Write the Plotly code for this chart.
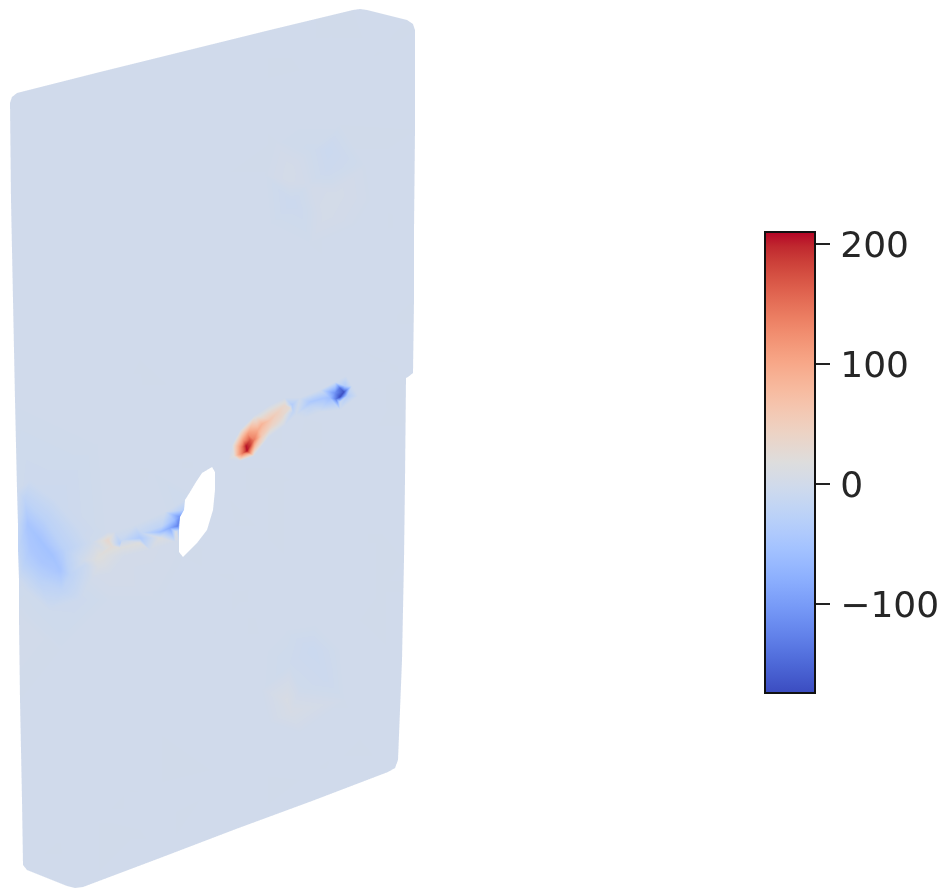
import plotly.graph_objects as go

# colour bar range and ticks
color_min = -174
color_max = 210
tick_values = [-100, 0, 100, 200]
tick_labels = ["\u200a−100", "\u200a0", "\u200a100", "\u200a200"]

# matplotlib "coolwarm" colours, evenly spaced
coolwarm = [
    (59,76,192),(68,90,204),(77,104,215),(87,117,225),(98,130,234),(108,142,241),(119,154,247),
    (130,165,251),(141,176,254),(152,185,255),(163,194,255),(174,201,253),(184,208,249),(194,213,244),
    (204,217,238),(213,219,230),(221,221,221),(229,216,209),(236,211,197),(241,204,185),(245,196,173),
    (247,187,160),(247,177,148),(247,166,135),(244,154,123),(241,141,111),(236,127,99),(229,112,88),
    (222,96,77),(213,80,66),(203,62,56),(192,40,47),(180,4,38),
]

# silhouette of the plate (image pixels), value at each outline node
outline_x = [10,12,17,100,185,270,353,360,367,407,413,415,415,414,414,413,408,406,405,404,402,398,395,388,312,236,160,83,75,67,27,23,22,20,19,19,18,18,17,15,13,11]
outline_y = [103,97,93,72,51,30,10,9,10,20,24,30,130,230,300,373,377,378,480,560,660,760,768,772,801,829,858,887,888,886,870,865,800,700,620,580,550,525,490,400,300,200]
outline_v = [0]*34 + [1,-4,-18,-14,-2,0,0,0]

# opening in the plate
hole_x = [212,202,196,190,185,184,180,179,179,179,183,197,207,213,215,215]
hole_y = [467,473,482,492,500,510,517,530,542,552,557,543,530,510,490,472]
hole_v = [0,0,0,0,-3,-30,-110,-35,0,0,0,0,0,0,0,0]

# interior field: background nodes
bg_x = [60,140,220,300,370, 60,140,220,370, 60,140,220,300,370, 60,140,225,290,360, 100,150,230,290,370, 110,160,250,300,370, 60,130,200,260,360, 60,140,230,330,380, 60,130,210,340, 60,140,360, 100,200,300]
bg_y = [120,110,90,70,60, 200,190,180,200, 280,280,270,280,290, 360,360,360,360,350, 440,470,500,480,440, 600,600,590,570,520, 650,650,650,640,620, 720,720,720,760,720, 800,790,770,760, 840,830,740, 820,800,780]
bg_v = [0]*len(bg_x)

# faint ring, upper right
ring_x = [290,288,292,300,328,327,336,325,308,312, 265,270,310,355,365,340,295,275]
ring_y = [168,180,203,210,150,170,195,215,185,150, 175,225,245,225,165,125,125,140]
ring_v = [4,4,-6,-4,-7,-5,4,4,1,-2, 0,0,0,0,0,0,0,0]

# faint marks, lower right
low_x = [313,290,327,287,284,291,300, 265,270,300,345,340,315,285,262]
low_y = [650,663,680,700,708,712,690, 650,722,732,700,650,625,630,690]
low_v = [-7,-3,-5,10,6,8,-1, 0,0,0,0,0,0,0,0]

# blue patch on the left edge
patch_x = [28,40,52,60, 30,42,55, 25,45,65,70,62,40,24, 30,55,80,85,80,50,25]
patch_y = [525,540,555,570, 550,562,572, 500,520,550,575,590,580,565, 480,500,530,565,600,610,590]
patch_v = [-48,-52,-52,-48, -42,-45,-42, -22,-25,-25,-22,-20,-25,-25, -4,-6,-6,-8,-4,-3,-2]

# crack, left of the opening
cleft_x = [120,122,140,142,160,162,170,174,178,178, 120,140,160,176,95,100,108,112,104,98,125,150,175, 115,135,165,84,92,110,92,108]
cleft_y = [544,540,538,533,532,526,528,520,521,526, 548,543,538,532,560,555,540,546,549,568,556,550,542, 532,525,512,560,542,573,578,532]
cleft_v = [-30,-12,-40,-15,-55,-20,-85,-60,-110,-125, 16,18,15,12,15,20,32,25,12,10,2,2,1, 0,0,0,1,-2,3,1,0]

# crack, red part
cred_x = [234,238,243,247,250,246,242,243,250,248,254,258,262,270,276,285,290,282,272,262,255, 228,240,254,268,285,296,232,240,255,270,285]
cred_y = [456,455,453,451,446,446,447,440,440,434,440,430,424,420,414,405,408,416,425,436,447, 460,461,456,438,425,415,445,430,415,405,398]
cred_v = [20,90,150,208,190,205,140,110,170,115,140,95,85,62,50,32,25,35,42,55,65, 0,0,0,0,0,0,0,0,0,0,0]

# crack, blue right part
cblue_x = [292,293,310,312,325,330,335,340,344,340,336,345,347,340, 300,320,335,352,358,320,305,340,346,360]
cblue_y = [405,412,402,406,398,398,393,388,392,397,399,386,396,402, 398,390,382,386,396,412,418,410,376,382]
cblue_v = [-35,-18,-42,-20,-48,-58,-110,-140,-170,-172,-130,-35,-35,-10, 0,0,0,0,0,0,0,0,0,0]

all_x = outline_x + hole_x + bg_x + ring_x + low_x + patch_x + cleft_x + cred_x + cblue_x
all_y = outline_y + hole_y + bg_y + ring_y + low_y + patch_y + cleft_y + cred_y + cblue_y
all_v = outline_v + hole_v + bg_v + ring_v + low_v + patch_v + cleft_v + cred_v + cblue_v


def delaunay(xs, ys):
    pts = [(float(a), float(b)) for a, b in zip(xs, ys)]
    n = len(pts)
    pts += [(-10000.0, -10000.0), (20000.0, -10000.0), (0.0, 20000.0)]
    tris = [(n, n + 1, n + 2)]

    def in_circle(t, p):
        ax, ay = pts[t[0]][0] - p[0], pts[t[0]][1] - p[1]
        bx, by = pts[t[1]][0] - p[0], pts[t[1]][1] - p[1]
        cx, cy = pts[t[2]][0] - p[0], pts[t[2]][1] - p[1]
        d = ((ax * ax + ay * ay) * (bx * cy - cx * by)
             - (bx * bx + by * by) * (ax * cy - cx * ay)
             + (cx * cx + cy * cy) * (ax * by - bx * ay))
        o = ((pts[t[1]][0] - pts[t[0]][0]) * (pts[t[2]][1] - pts[t[0]][1])
             - (pts[t[1]][1] - pts[t[0]][1]) * (pts[t[2]][0] - pts[t[0]][0]))
        return d > 0 if o > 0 else d < 0

    for idx in range(n):
        p = pts[idx]
        bad = [t for t in tris if in_circle(t, p)]
        edges = {}
        for t in bad:
            for e in ((t[0], t[1]), (t[1], t[2]), (t[2], t[0])):
                key = tuple(sorted(e))
                edges[key] = edges.get(key, 0) + 1
        tris = [t for t in tris if t not in bad]
        for e, c in edges.items():
            if c == 1:
                tris.append((e[0], e[1], idx))
    return [t for t in tris if max(t) < n]


def inside(px, py, xs, ys):
    hit = False
    m = len(xs)
    for a in range(m):
        b = (a + 1) % m
        if (ys[a] > py) != (ys[b] > py):
            if px < xs[a] + (py - ys[a]) * (xs[b] - xs[a]) / (ys[b] - ys[a]):
                hit = not hit
    return hit


tri_i, tri_j, tri_k = [], [], []
for t in delaunay(all_x, all_y):
    cx = sum(all_x[q] for q in t) / 3
    cy = sum(all_y[q] for q in t) / 3
    if inside(cx, cy, outline_x, outline_y) and not inside(cx, cy, hole_x, hole_y):
        tri_i.append(t[0]); tri_j.append(t[1]); tri_k.append(t[2])

# the page sits 8 px in from the window's top left corner
PAGE = 8
W, H = 950 - PAGE, 888 - PAGE
scale = [[q / (len(coolwarm) - 1), f"rgb{c}"] for q, c in enumerate(coolwarm)]

fig = go.Figure(go.Mesh3d(
    x=[v - PAGE for v in all_x],
    y=[H - (v - PAGE) for v in all_y],
    z=[0] * len(all_x),
    i=tri_i, j=tri_j, k=tri_k,
    intensity=all_v,
    intensitymode="vertex",
    colorscale=scale,
    cmin=color_min, cmax=color_max,
    flatshading=False,
    lighting=dict(ambient=1, diffuse=0, specular=0, roughness=1, fresnel=0),
    hoverinfo="skip",
    colorbar=dict(
        x=(765 - PAGE) / W, xanchor="left", xpad=0,
        y=(H - (232 - PAGE)) / H, yanchor="top", ypad=0,
        lenmode="pixels", len=461,
        thicknessmode="pixels", thickness=50,
        outlinecolor="#111111", outlinewidth=2,
        ticks="outside", ticklen=14, tickwidth=2, tickcolor="#222222",
        tickvals=tick_values, ticktext=tick_labels,
        tickfont=dict(family="DejaVu Sans", size=36, color="#262626"),
    ),
))
hidden = dict(visible=False, showgrid=False, zeroline=False, showticklabels=False, showspikes=False)
fig.update_layout(
    width=W, height=H,
    margin=dict(l=0, r=0, t=0, b=0),
    paper_bgcolor="white",
    scene=dict(
        domain=dict(x=[0, 1], y=[0, 1]),
        xaxis=dict(range=[0, W], **hidden),
        yaxis=dict(range=[0, H], **hidden),
        zaxis=dict(range=[-1, 1], **hidden),
        aspectmode="manual",
        aspectratio=dict(x=2 * W / H, y=2, z=0.01),
        bgcolor="white",
        camera=dict(eye=dict(x=0, y=0, z=1), up=dict(x=0, y=1, z=0),
                    center=dict(x=0, y=0, z=0),
                    projection=dict(type="orthographic")),
    ),
)
fig.write_html("out.html")
